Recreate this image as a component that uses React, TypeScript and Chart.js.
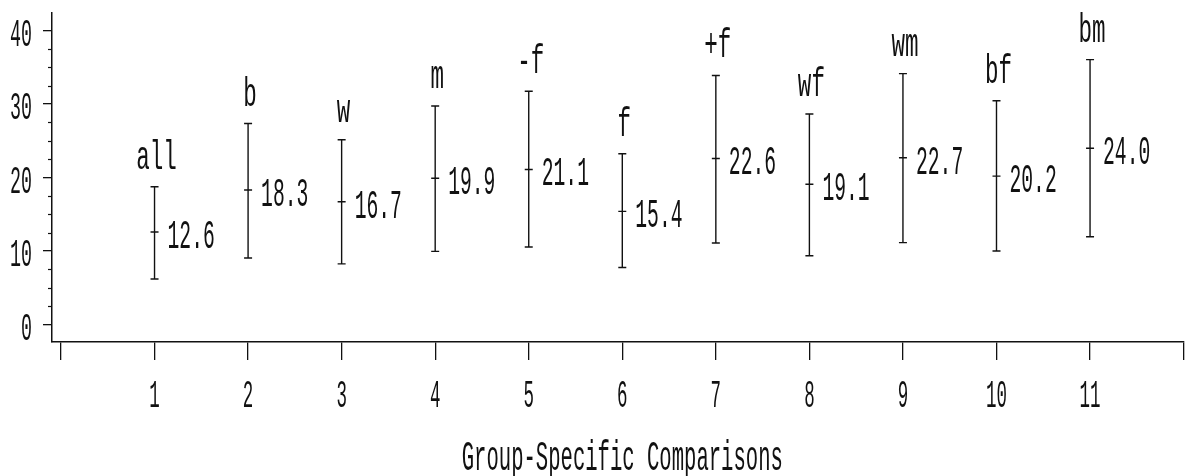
import React, { useEffect, useRef } from "react";
import { Chart, registerables } from "chart.js";

Chart.register(...registerables);

// ---- data ----
const positions = [1, 2, 3, 4, 5, 6, 7, 8, 9, 10, 11];
const groupLabels = ["all", "b", "w", "m", "-f", "f", "+f", "wf", "wm", "bf", "bm"];
const means = [12.6, 18.3, 16.7, 19.9, 21.1, 15.4, 22.6, 19.1, 22.7, 20.2, 24.0];
const lower = [6.2, 9.05, 8.25, 9.95, 10.55, 7.75, 11.1, 9.35, 11.15, 10.0, 11.95];
const upper = [18.75, 27.35, 25.15, 29.75, 31.75, 23.25, 33.9, 28.65, 34.15, 30.45, 36.05];
const yTickValues = [0, 10, 20, 30, 40];
const yMinorTickValues = [2.5, 5, 7.5, 12.5, 15, 17.5, 22.5, 25, 27.5, 32.5, 35, 37.5];
const xTickValues = [1, 2, 3, 4, 5, 6, 7, 8, 9, 10, 11];
const xTitle = "Group-Specific Comparisons";

const FONT = '"Liberation Mono", "DejaVu Sans Mono", monospace';
const INK = "#111";

function drawText(
  ctx: CanvasRenderingContext2D,
  text: string,
  x: number,
  y: number,
  size: number,
  sx: number,
  align: CanvasTextAlign
) {
  ctx.save();
  ctx.font = `${size}px ${FONT}`;
  ctx.textAlign = align;
  ctx.textBaseline = "alphabetic";
  ctx.fillStyle = INK;
  ctx.translate(x, y);
  ctx.scale(sx, 1);
  ctx.fillText(text, 0, 0);
  ctx.restore();
}

const annotations = {
  id: "annotations",
  afterDatasetsDraw(chart: any) {
    const ctx: CanvasRenderingContext2D = chart.ctx;
    const xs = chart.scales.x;
    const ys = chart.scales.y;
    const area = chart.chartArea;

    // minor ticks on the y axis
    ctx.save();
    ctx.strokeStyle = INK;
    ctx.lineWidth = 1.2;
    yMinorTickValues.forEach((v) => {
      const py = Math.round(ys.getPixelForValue(v)) + 0.5;
      ctx.beginPath();
      ctx.moveTo(area.left - 4, py);
      ctx.lineTo(area.left, py);
      ctx.stroke();
    });
    ctx.restore();

    // y tick labels
    yTickValues.forEach((v) => {
      drawText(ctx, String(v), 32, ys.getPixelForValue(v) + 15, 39, 0.47, "right");
    });

    // x tick labels
    const xAxisY = area.bottom;
    xTickValues.forEach((v) => {
      drawText(ctx, String(v), xs.getPixelForValue(v), xAxisY + 65, 38, 0.46, "center");
    });

    // axis title
    const cx = (xs.getPixelForValue(0) + xs.getPixelForValue(12)) / 2;
    drawText(ctx, xTitle, cx, xAxisY + 128, 42, 0.49, "center");

    // value labels and group labels
    positions.forEach((p, i) => {
      const px = xs.getPixelForValue(p);
      const pm = ys.getPixelForValue(means[i]);
      const pt = ys.getPixelForValue(upper[i]);
      drawText(ctx, means[i].toFixed(1), px + 13, pm + 16, 41, 0.48, "left");
      drawText(ctx, groupLabels[i], px + 2, pt - 18, 41, 0.55, "center");
    });
  },
};

export default function App() {
  const canvasRef = useRef<HTMLCanvasElement | null>(null);

  useEffect(() => {
    const canvas = canvasRef.current;
    if (!canvas) return;

    const rangeData: { x: number; y: number | null }[] = [];
    positions.forEach((p, i) => {
      rangeData.push({ x: p, y: lower[i] });
      rangeData.push({ x: p, y: upper[i] });
      rangeData.push({ x: p, y: null });
    });
    const meanData = positions.map((p, i) => ({ x: p, y: means[i] }));

    const chart = new Chart(canvas, {
      type: "scatter",
      data: {
        datasets: [
          {
            label: "interval",
            data: rangeData as any,
            showLine: true,
            spanGaps: false,
            borderColor: INK,
            borderWidth: 1.4,
            pointStyle: "line",
            pointRadius: 4,
            pointHoverRadius: 4,
            pointBorderColor: INK,
            pointBorderWidth: 1.4,
          },
          {
            label: "mean",
            data: meanData,
            showLine: false,
            pointStyle: "line",
            pointRadius: 4,
            pointHoverRadius: 4,
            borderColor: INK,
            pointBorderColor: INK,
            pointBorderWidth: 1.4,
          },
        ],
      },
      options: {
        animation: false,
        responsive: false,
        maintainAspectRatio: false,
        devicePixelRatio: 1,
        events: [],
        layout: { padding: { left: 43, top: 13, right: 4, bottom: 116 } },
        plugins: {
          legend: { display: false },
          tooltip: { enabled: false },
          title: { display: false },
        },
        scales: {
          x: {
            type: "linear",
            min: -0.096,
            max: 12,
            ticks: { display: false, stepSize: 1, includeBounds: false },
            grid: {
              display: true,
              drawOnChartArea: false,
              drawTicks: true,
              tickLength: 18,
              color: INK,
              lineWidth: 1.3,
            },
            border: { display: true, color: INK, width: 1.5 },
          },
          y: {
            type: "linear",
            min: -2.38,
            max: 42.4,
            ticks: { display: false, stepSize: 10, includeBounds: false },
            grid: {
              display: true,
              drawOnChartArea: false,
              drawTicks: true,
              tickLength: 9,
              color: INK,
              lineWidth: 1.3,
            },
            border: { display: true, color: INK, width: 1.5 },
          },
        },
      },
      plugins: [annotations],
    });

    return () => chart.destroy();
  }, []);

  return (
    <div
      style={{
        position: "fixed",
        left: 0,
        top: 0,
        width: 1189,
        height: 476,
        background: "#fff",
      }}
    >
      <canvas ref={canvasRef} width={1189} height={476} style={{ display: "block" }} />
    </div>
  );
}
